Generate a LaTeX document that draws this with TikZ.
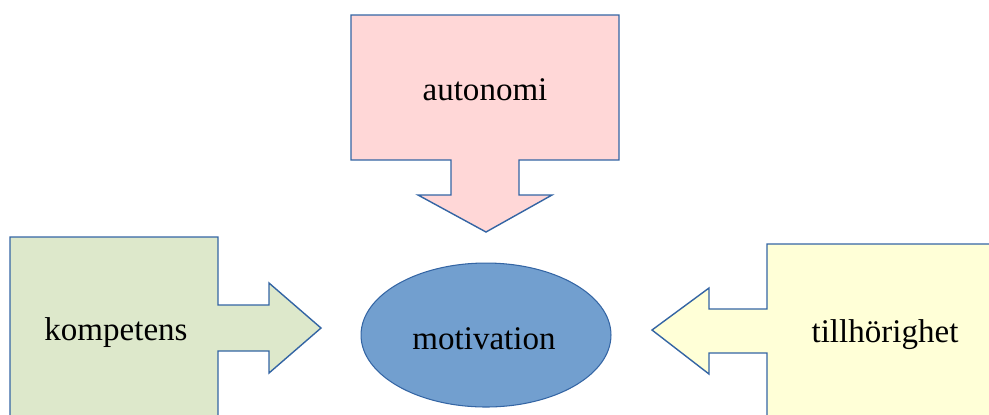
\documentclass[tikz,border=0pt]{standalone}
\usepackage{fontspec}
\setmainfont{Liberation Serif}
\usetikzlibrary{shapes.geometric}
\usetikzlibrary{positioning}

\definecolor{calloutline}{HTML}{3465A4}
\definecolor{pinkfill}{HTML}{FFD7D7}
\definecolor{greenfill}{HTML}{DDE8CB}
\definecolor{yellowfill}{HTML}{FFFFD7}
\definecolor{ellipsefill}{HTML}{729FCF}

\begin{document}
\begin{tikzpicture}[
      x = 0.02cm, y = -0.02cm,
      callout/.style = {
        draw = calloutline, line width = 0.8pt,
        line join = miter
      },
      label/.style = {
        font = {\fontsize{18.8}{22}\selectfont},
        inner sep = 0, anchor = base
      },
    ]

    \useasboundingbox (0,0) rectangle (989,414);
    \clip (0,0) rectangle (989,414);

	%% autonomi, pointing down
    \begin{scope}
      \draw[callout, fill = pinkfill]
        (351,15) -- (619,15) -- (619,160) -- (519,160) -- (519,195) -- (552,195)
        -- (486,232) -- (418,195) -- (451,195) -- (451,160) -- (351,160) -- cycle;
      \node[label] (auto) at (485,100) {autonomi};
    \end{scope}

	%% kompetens, pointing right
    \begin{scope}
      \draw[callout, fill = greenfill]
        (10,237) -- (218,237) -- (218,305) -- (269,305) -- (269,283) -- (321,328)
        -- (269,373) -- (269,351) -- (218,351) -- (218,420) -- (10,420) -- cycle;
      \node[label] (komp) at (116,340) {kompetens};
    \end{scope}

	%% tillhörighet, pointing left
    \begin{scope}
      \draw[callout, fill = yellowfill]
        (767,244) -- (995,244) -- (995,420) -- (767,420) -- (767,353) -- (709,353)
        -- (709,374) -- (652,330) -- (709,288) -- (709,309) -- (767,309) -- cycle;
      \node[label] (till) at (885,342) {tillhörighet};
    \end{scope}

	%% centre
    \node[ellipse, draw = calloutline, fill = ellipsefill, line width = 0.6pt,
          minimum width = 5cm, minimum height = 2.88cm, inner sep = 0] (motiv) at (486,335) {};
    \node[label] (motivtext) at (484,349) {motivation};
  \end{tikzpicture}
\end{document}
